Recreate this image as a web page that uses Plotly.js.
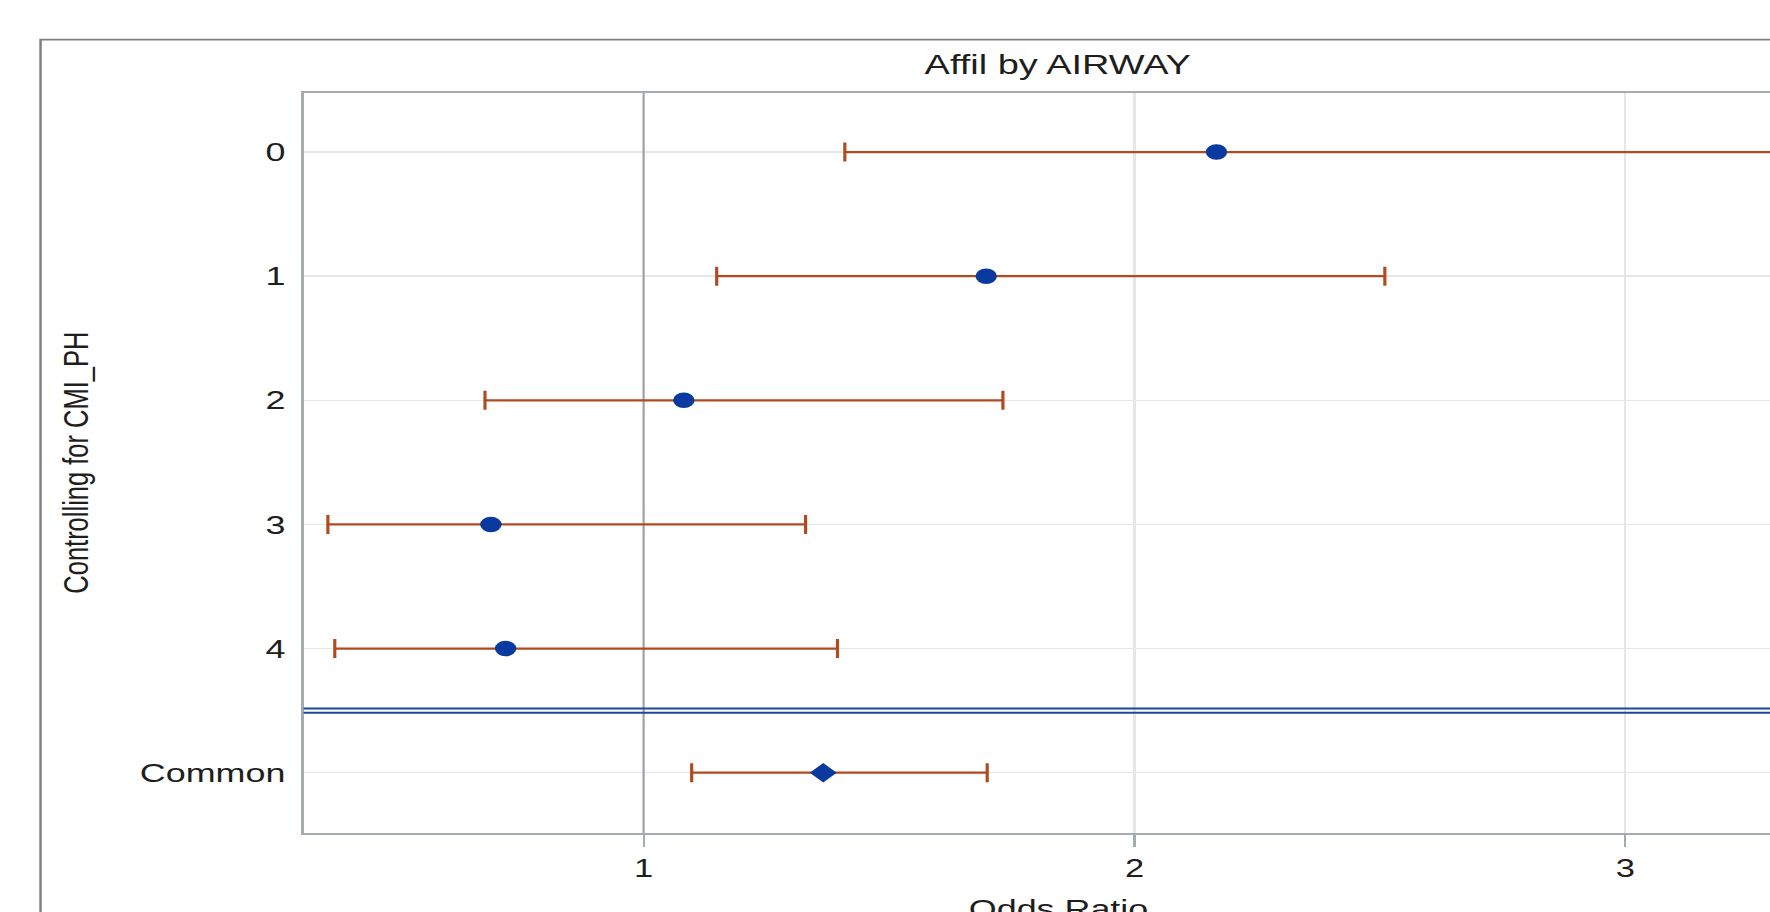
<!DOCTYPE html>
<html>
<head>
<meta charset="utf-8">
<script src="https://cdn.plot.ly/plotly-3.0.1.min.js"></script>
<style>
  html, body { margin: 0; padding: 0; background: #ffffff; overflow: hidden; }
  #wrap { width: 1770px; height: 912px; overflow: hidden; position: relative; background: #fff; }
  #plot { position: absolute; left: 0; top: 0; transform-origin: 0 0; }
</style>
</head>
<body>
<div id="wrap"><div id="plot"></div></div>
<script>
// ---- data ----
const categories = ['0', '1', '2', '3', '4', 'Common'];
const estimates  = [2.167, 1.698, 1.082, 0.689, 0.719, 1.366];
const lowerCL    = [1.410, 1.149, 0.677, 0.357, 0.371, 1.098];
const upperCL    = [3.330, 2.510, 1.732, 1.330, 1.395, 1.700];
const xTickVals  = [1, 2, 3];
const xTickText  = ['1', '2', '3'];
const titleText  = 'Affil by AIRWAY';
const xTitleText = 'Odds Ratio';
const yTitleText = 'Controlling for CMI_PH';
const referenceOR = 1;

// ---- geometry (the reference is horizontally stretched) ----
const SX = 1.38;                 // horizontal stretch of the picture
const W = 1450, H = 1000;        // layout size before stretch
const plotLeft = 304 / SX, plotRight = 1812 / SX;
const plotTop = 92.7, plotBottom = 833.3;
const plotW = plotRight - plotLeft, plotH = plotBottom - plotTop;
const frameLeft = 41 / SX, frameTop = 39.3;

const nStrata = categories.length - 1;
const yIdx = categories.map((c, i) => i);

const strata = {
  type: 'scatter', mode: 'markers',
  x: estimates.slice(0, nStrata), y: yIdx.slice(0, nStrata),
  marker: { symbol: 'circle', size: 15.5, color: '#0a399f', line: { width: 0 } },
  error_x: {
    type: 'data', symmetric: false,
    array: upperCL.slice(0, nStrata).map((u, i) => u - estimates[i]),
    arrayminus: lowerCL.slice(0, nStrata).map((l, i) => estimates[i] - l),
    color: '#b24a1f', thickness: 2.3, width: 9.5
  },
  hoverinfo: 'skip', showlegend: false
};
const common = {
  type: 'scatter', mode: 'markers',
  x: estimates.slice(nStrata), y: yIdx.slice(nStrata),
  marker: { symbol: 'diamond', size: 15, color: '#0a399f', line: { width: 0 } },
  error_x: {
    type: 'data', symmetric: false,
    array: upperCL.slice(nStrata).map((u, i) => u - estimates[nStrata + i]),
    arrayminus: lowerCL.slice(nStrata).map((l, i) => estimates[nStrata + i] - l),
    color: '#b24a1f', thickness: 2.3, width: 9.5
  },
  hoverinfo: 'skip', showlegend: false
};

const fontFam = '"Liberation Sans", Arial, Helvetica, sans-serif';
const sepY = nStrata - 0.5;
const sepGap = 0.017;

const layout = {
  width: W, height: H,
  paper_bgcolor: '#ffffff', plot_bgcolor: '#ffffff',
  margin: { l: plotLeft, r: W - plotRight, t: plotTop, b: H - plotBottom, pad: 0 },
  font: { family: fontFam, color: '#1e1e1e' },
  title: {
    text: titleText, font: { size: 27.5, color: '#1e1e1e', family: fontFam },
    x: 0.5, xref: 'paper', xanchor: 'center',
    y: 1 - 64.5 / H, yref: 'container', yanchor: 'middle'
  },
  xaxis: {
    range: [0.3075, 3.38], tickvals: xTickVals, ticktext: xTickText,
    showgrid: true, gridcolor: '#e6e6e6', gridwidth: 1.5, zeroline: false,
    showline: true, linecolor: '#a6abb0', linewidth: 2, mirror: true,
    ticks: 'outside', ticklen: 12, tickwidth: 1.5, tickcolor: '#a6abb0',
    tickfont: { size: 25, color: '#1e1e1e' }, ticklabelstandoff: 0
  },
  yaxis: {
    range: [5.486, -0.476], tickvals: yIdx, ticktext: categories,
    showgrid: true, gridcolor: '#e6e6e6', gridwidth: 1.5, zeroline: false,
    showline: true, linecolor: '#a6abb0', linewidth: 2, mirror: true,
    ticks: '', tickfont: { size: 26, color: '#1e1e1e' }, ticklabelstandoff: 6
  },
  shapes: [
    { type: 'line', xref: 'x', yref: 'paper', x0: referenceOR, x1: referenceOR, y0: 0, y1: 1,
      line: { color: '#9ca1a6', width: 1.5 }, layer: 'below' },
    { type: 'line', xref: 'paper', yref: 'y', x0: 0, x1: 1, y0: sepY - sepGap, y1: sepY - sepGap,
      line: { color: '#1f44a0', width: 2 }, layer: 'above' },
    { type: 'line', xref: 'paper', yref: 'y', x0: 0, x1: 1, y0: sepY + sepGap, y1: sepY + sepGap,
      line: { color: '#1f44a0', width: 2 }, layer: 'above' },
    { type: 'rect', xref: 'paper', yref: 'paper',
      x0: (frameLeft - plotLeft) / plotW, x1: 1.25,
      y0: 1 + (plotTop - frameTop) / plotH, y1: -0.3,
      line: { color: '#808080', width: 1.8 }, fillcolor: 'rgba(0,0,0,0)' }
  ],
  annotations: [
    { text: yTitleText, textangle: -90, showarrow: false,
      xref: 'paper', yref: 'paper', x: (76 / SX - plotLeft) / plotW, y: 0.5,
      xanchor: 'center', yanchor: 'middle', font: { size: 25.5, color: '#1e1e1e' } },
    { text: xTitleText, showarrow: false,
      xref: 'paper', yref: 'paper', x: 0.5, y: (plotBottom - 909.7) / plotH,
      xanchor: 'center', yanchor: 'middle', font: { size: 26, color: '#1e1e1e' } }
  ]
};

const el = document.getElementById('plot');
el.style.width = W + 'px';
el.style.height = H + 'px';
el.style.transform = 'scaleX(' + SX + ')';
Plotly.newPlot(el, [strata, common], layout, { staticPlot: true, displayModeBar: false, responsive: false }).then(function () {
  // draw the reference line at OR = 1 above the grid but below the data
  const gd = el;
  const grid = gd.querySelector('.gridlayer');
  const below = gd.querySelector('.layer-below .shapelayer');
  if (grid && below && grid.parentNode) {
    grid.parentNode.insertBefore(below, grid.nextSibling);
  }
});
</script>
</body>
</html>
